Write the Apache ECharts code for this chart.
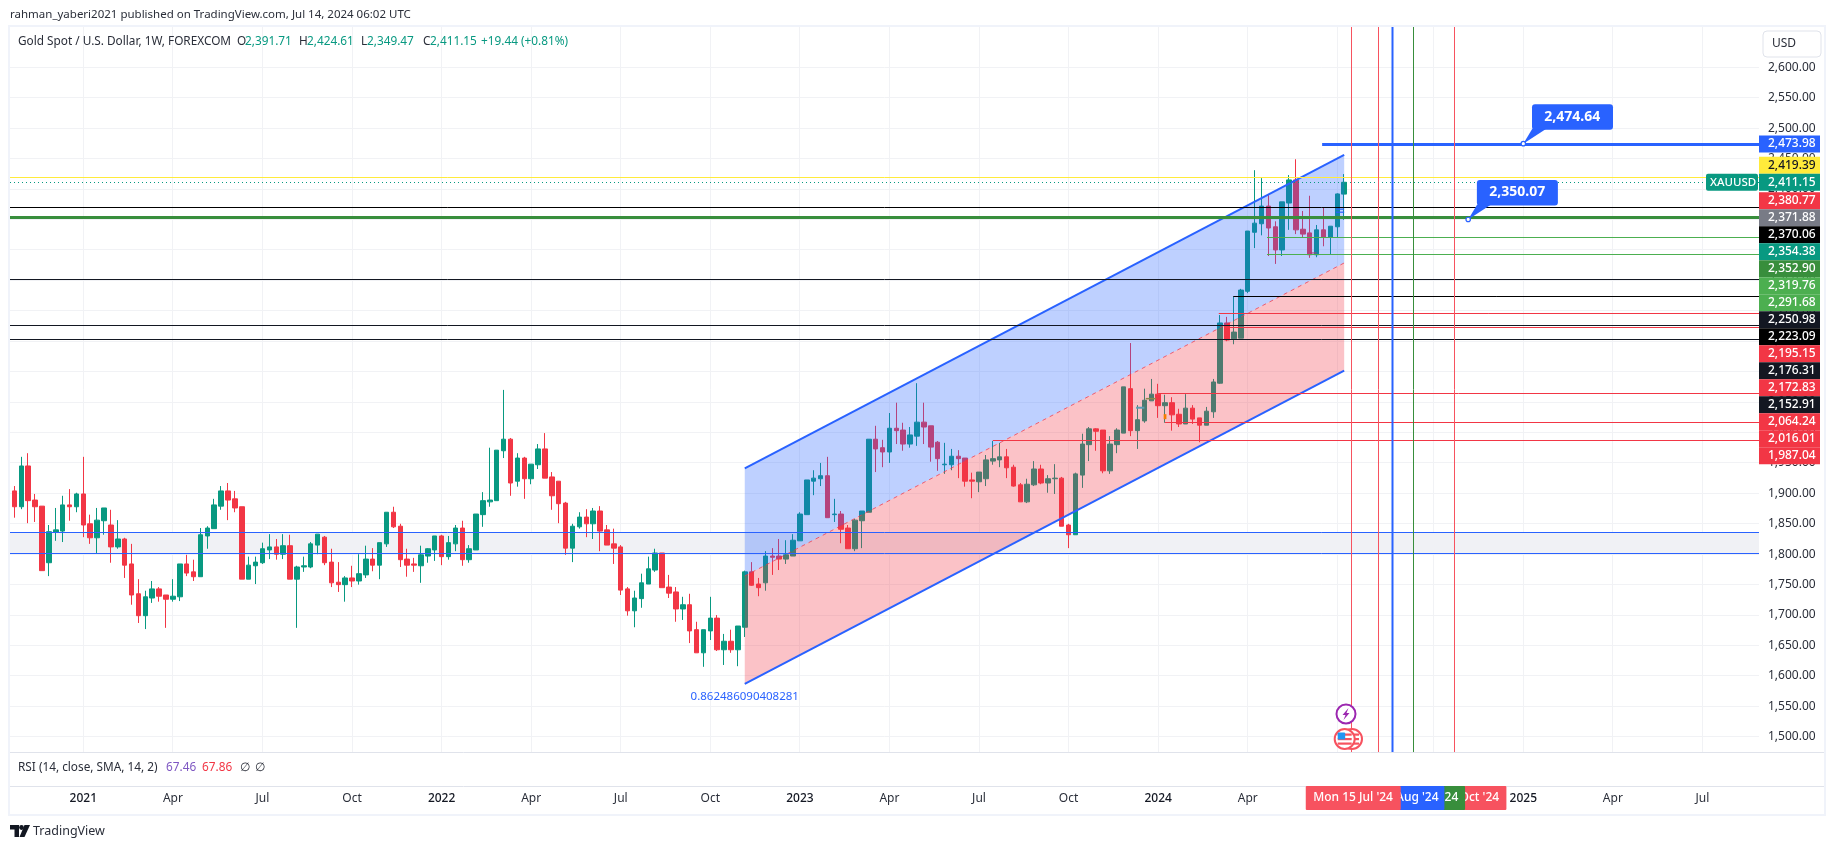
<!DOCTYPE html>
<html><head><meta charset="utf-8"><style>html,body{margin:0;padding:0;background:#fff}#c{width:1835px;height:849px}</style>
<script src="https://cdn.jsdelivr.net/npm/echarts@6/dist/echarts.min.js"></script></head>
<body><div id="c"></div><script>
// weekly bars from the week of 2020-10-26: [open, close, low, high]
const candles = [
[1904,1878,1860,1912],[1878,1945,1874,1960],[1945,1888,1851,1966],[1889,1878,1853,1899],[1879,1773,1773,1879],[1786,1837,1764,1848],[1836,1840,1822,1876],[1838,1881,1820,1896],[1881,1878,1855,1907],[1878,1899,1869,1901],
[1899,1848,1828,1960],[1850,1827,1817,1865],[1827,1856,1802,1876],[1855,1876,1832,1876],[1848,1812,1786,1873],[1812,1825,1809,1856],[1825,1782,1761,1827],[1784,1733,1717,1817],[1735,1699,1687,1759],[1699,1730,1677,1740],
[1728,1743,1720,1756],[1743,1731,1722,1746],[1733,1726,1679,1733],[1726,1731,1722,1759],[1730,1784,1723,1784],[1784,1769,1764,1799],[1771,1763,1756,1791],[1763,1832,1763,1843],[1830,1843,1809,1846],[1842,1881,1842,1891],
[1879,1904,1873,1912],[1904,1889,1856,1917],[1891,1876,1869,1904],[1878,1759,1759,1878],[1759,1782,1759,1796],[1781,1787,1751,1796],[1786,1809,1784,1819],[1807,1812,1792,1833],[1812,1800,1791,1825],[1800,1814,1792,1833],
[1814,1759,1759,1832],[1759,1779,1679,1781],[1779,1781,1771,1796],[1779,1817,1777,1820],[1815,1833,1800,1833],[1828,1786,1782,1830],[1787,1753,1746,1809],[1754,1750,1738,1787],[1750,1761,1722,1764],[1761,1756,1746,1781],
[1756,1768,1750,1800],[1766,1792,1761,1814],[1792,1782,1772,1810],[1782,1819,1759,1819],[1817,1869,1812,1869],[1869,1845,1843,1878],[1846,1791,1779,1850],[1792,1782,1763,1809],[1784,1782,1771,1794],[1781,1799,1753,1814],
[1797,1809,1786,1810],[1807,1830,1789,1830],[1830,1796,1782,1832],[1796,1819,1791,1830],[1817,1843,1805,1848],[1843,1791,1781,1855],[1791,1809,1786,1815],[1807,1866,1807,1866],[1865,1888,1845,1902],[1886,1889,1878,1975],
[1888,1971,1888,1971],[1970,1989,1958,2070],[1989,1917,1896,1991],[1920,1958,1911,1966],[1958,1924,1891,1960],[1924,1948,1915,1948],[1947,1973,1940,1981],[1973,1925,1925,1999],[1927,1896,1873,1935],[1920,1883,1851,1920],
[1884,1810,1799,1886],[1810,1846,1787,1850],[1845,1861,1842,1869],[1861,1850,1828,1874],[1850,1871,1825,1876],[1871,1838,1805,1879],[1840,1815,1815,1848],[1817,1810,1784,1842],[1812,1741,1733,1815],[1743,1707,1699,1746],
[1707,1728,1680,1740],[1727,1753,1712,1768],[1751,1776,1751,1796],[1774,1802,1771,1809],[1802,1745,1745,1802],[1746,1736,1728,1766],[1738,1710,1689,1746],[1710,1717,1692,1730],[1717,1674,1654,1735],[1676,1638,1638,1689],
[1638,1676,1615,1676],[1674,1695,1659,1730],[1695,1643,1641,1700],[1643,1657,1618,1669],[1657,1643,1638,1676],[1643,1682,1616,1682],[1680,1771,1664,1773],[1771,1749,1748,1787],[1751,1745,1731,1761],[1753,1797,1740,1805],
[1797,1795,1766,1810],[1797,1792,1774,1825],[1792,1799,1784,1823],[1797,1823,1797,1833],[1822,1866,1822,1869],[1865,1922,1865,1922],[1920,1925,1897,1938],[1924,1929,1912,1950],[1929,1860,1860,1960],[1865,1866,1853,1891],
[1866,1841,1818,1871],[1843,1809,1809,1848],[1809,1856,1805,1858],[1855,1871,1810,1871],[1869,1989,1869,1989],[1989,1973,1935,2011],[1975,1968,1943,1988],[1968,2007,1950,2032],[2007,2003,1981,2049],[2004,1981,1970,2016],
[1981,1996,1975,2009],[1994,2017,1978,2081],[2017,2009,1981,2049],[2011,1976,1952,2011],[1984,1957,1937,1986],[1947,1948,1932,1983],[1947,1961,1938,1973],[1961,1957,1925,1971],[1958,1920,1911,1958],[1922,1920,1892,1934],
[1919,1935,1902,1935],[1924,1955,1912,1963],[1953,1957,1947,1986],[1955,1960,1943,1983],[1960,1942,1925,1973],[1943,1912,1911,1947],[1914,1886,1886,1917],[1886,1915,1884,1924],[1914,1940,1912,1953],[1940,1917,1915,1947],
[1917,1924,1901,1930],[1924,1925,1899,1948],[1925,1846,1846,1927],[1848,1832,1810,1850],[1832,1932,1832,1934],[1930,1981,1909,1998],[1980,2006,1953,2009],[2006,2002,1970,2007],[2004,1937,1933,2004],[1937,1981,1932,1994],
[1980,2004,1966,2007],[1999,2075,1999,2075],[2072,2003,1994,2147],[2003,2021,1973,2045],[2019,2053,2016,2072],[2052,2063,2052,2088],[2063,2044,2024,2080],[2044,2049,2016,2062],[2049,2029,2003,2058],[2030,2014,2009,2039],
[2014,2040,2014,2063],[2040,2022,2014,2045],[2024,2012,1984,2024],[2012,2035,2012,2042],[2034,2083,2024,2088],[2081,2180,2080,2193],[2180,2152,2150,2190],[2154,2165,2145,2223],[2155,2234,2155,2236],[2232,2331,2229,2331],
[2329,2344,2303,2431],[2343,2372,2324,2418],[2372,2336,2290,2390],[2338,2300,2277,2347],[2300,2379,2290,2379],[2377,2415,2333,2423],[2415,2333,2326,2449],[2334,2326,2321,2364],[2328,2292,2287,2389],[2292,2333,2288,2341],
[2333,2321,2306,2369],[2321,2339,2293,2339],[2338,2392,2320,2393],[2391.71,2411.15,2349.47,2424.61]
];
const priceTicks = [1500,1550,1600,1650,1700,1750,1800,1850,1900,1950,2000,2050,2100,2150,2200,2250,2300,2350,2400,2450,2500,2550,2600];
const tickDates = ['2021-01-04','2021-04-05','2021-07-05','2021-10-04','2022-01-03','2022-04-04','2022-07-04','2022-10-03','2023-01-02','2023-04-03','2023-07-03','2023-10-02','2024-01-01','2024-04-01','2024-07-01','2024-10-07','2025-01-06','2025-04-07','2025-07-07'];
const tickLabels = ['2021','Apr','Jul','Oct','2022','Apr','Jul','Oct','2023','Apr','Jul','Oct','2024','Apr','Jul','Oct','2025','Apr','Jul'];
const barCount = 254;
const weeks = [];
for (let i = 0; i < barCount; i++) weeks.push(new Date(Date.UTC(2020, 9, 26 + i * 7)).toISOString().slice(0, 10));
const tickIndex = tickDates.map(d => weeks.indexOf(d));

// horizontal levels: value, first week index (null = chart edge)
const levelValues = [2473.98,2419.39,2411.15,2370.06,2352.90,2319.76,2291.68,2250.98,2223.09,2195.15,2176.31,2172.83,2152.91,2064.24,2016.01,1987.04,1836,1801.5];
const levelStarts = [189.8,null,null,null,null,181.8,181.8,null,176.9,174.8,null,175.7,null,166,167,142,null,null];
const levelColors = ['#2962FF','#FFEB3B','#089981','#000000','#388E3C','#4CAF50','#4CAF50','#131722','#000000','#F23645','#131722','#F23645','#131722','#F23645','#F23645','#F23645','#2962FF','#2962FF'];
const levelWidths = [3,1,1,1,3,1,1,1,1,1,1,1,1,1,1,1,1,1];
const zoneBand = [1801.5,1836];
// vertical date lines
const vlineWeeks = [194,198,200,203,209];
const vlineColors = ['#F7525F','#F7525F','#2962FF','#388E3C','#F7525F'];
const vlineWidths = [1,1,2,1,1];
// parallel channel: two week indices, upper / middle / lower values at each end
const channelWeeks = [106,193];
const channelUpper = [1941.2,2456];
const channelMiddle = [1764.2,2278.6];
const channelLower = [1586.8,2101.6];
// small drawing remnants: from week, to week, value
const remnantFrom = [166.8,162.8,164.2,191.8,191.8,188];
const remnantTo = [167.2,164,165.7,193,193,189];
const remnantValues = [2026,2040.7,2055.6,2367,2362,2295];
const remnantColors = ['#F57C00','#5B9DB5','#8B8B4E','#2962FF','#2962FF','#B03A7A'];
const remnantWidths = [5,2,1.5,1.2,1.2,1];
// callouts
const calloutWeeks = [219,211];
const calloutValues = [2474.64,2350.07];
const calloutTexts = ['2,474.64','2,350.07'];
// right-hand price tags, top to bottom
const tagValues = [2473.98,2419.39,2411.15,2380.77,2371.88,2370.06,2354.38,2352.90,2319.76,2291.68,2250.98,2223.09,2195.15,2176.31,2172.83,2152.91,2064.24,2016.01,1987.04];
const tagFills = ['#2962FF','#FFEB3B','#089981','#F23645','#787B86','#000000','#089981','#388E3C','#4CAF50','#4CAF50','#131722','#000000','#F23645','#131722','#F23645','#131722','#F23645','#F23645','#F23645'];
const pinnedTag = 2;
// date tags below the axis (bottom of the stack first)
const dateTagTexts = ["Mon 28 Oct '24","Mon 16 Sep '24","Mon 12 Aug '24","Mon 26 Aug '24","Mon 15 Jul '24"];
const dateTagWeeks = [209,203,198,200,194];
const dateTagFills = ['#F7525F','#388E3C','#F7525F','#2962FF','#F7525F'];

const FONT = '"Noto Sans", sans-serif';
const GRID = {left: 11, top: 27, width: 1750, height: 725};
const chart = echarts.init(document.getElementById('c'), null, {renderer: 'canvas'});
const one = [[0, 1500]];
const rows = n => Array.from({length: n}, () => [0, 1500]);
function xAt(api, p, i) {
  const f = Math.floor(i);
  return api.coord([f, 1500])[0] + (i - f) * p.coordSys.width / barCount;
}
const crisp = v => Math.floor(v) + 0.5;
const plotRight = p => p.coordSys.x + p.coordSys.width - 2;
const base = {type: 'custom', coordinateSystem: 'cartesian2d', silent: true, animation: false};

chart.setOption({
  animation: false,
  backgroundColor: '#ffffff',
  grid: GRID,
  xAxis: {
    type: 'category', data: weeks, boundaryGap: true,
    axisLine: {show: false}, axisTick: {show: false}, splitLine: {show: false},
    axisLabel: {
      margin: 41, interval: (i) => tickIndex.includes(i), hideOverlap: false,
      formatter: (v) => { const t = tickLabels[tickDates.indexOf(v)]; return /^\d/.test(t) ? '{y|' + t + '}' : '{m|' + t + '}'; },
      rich: {y: {fontFamily: FONT, fontSize: 12, fontWeight: 500, color: '#131722'}, m: {fontFamily: FONT, fontSize: 12, color: '#2A2E39'}}
    }
  },
  yAxis: {
    type: 'value', position: 'right', min: 1475, max: 2666.3, scale: true,
    axisLine: {show: false}, axisTick: {show: false}, splitLine: {show: false},
    axisLabel: {customValues: priceTicks, margin: 7, fontFamily: FONT, fontSize: 12, color: '#2A2E39', align: 'left',
      formatter: v => v.toLocaleString('en-US', {minimumFractionDigits: 2})}
  },
  series: [
    {...base, name: 'gridH', z: 1, data: rows(priceTicks.length), renderItem: (p, api) => {
      const y = crisp(api.coord([0, priceTicks[p.dataIndex]])[1]);
      return {type: 'line', shape: {x1: p.coordSys.x - 1, y1: y, x2: plotRight(p), y2: y}, style: {stroke: '#F1F2F5', lineWidth: 1}};
    }},
    {...base, name: 'gridV', z: 1, data: rows(tickIndex.length), renderItem: (p, api) => {
      const x = crisp(api.coord([tickIndex[p.dataIndex], 1500])[0]);
      return {type: 'line', shape: {x1: x, y1: p.coordSys.y, x2: x, y2: p.coordSys.y + p.coordSys.height}, style: {stroke: '#F1F2F5', lineWidth: 1}};
    }},
    {...base, name: 'zone', z: 1, data: one, renderItem: (p, api) => {
      const a = api.coord([0, zoneBand[1]])[1], b = api.coord([0, zoneBand[0]])[1];
      return {type: 'rect', shape: {x: p.coordSys.x - 1, y: a, width: plotRight(p) - p.coordSys.x + 1, height: b - a}, style: {fill: '#F0F1F5'}};
    }},
    {type: 'candlestick', name: 'XAUUSD', z: 2, barWidth: 5, data: candles, silent: true,
      itemStyle: {color: '#089981', color0: '#F23645', borderColor: '#089981', borderColor0: '#F23645', borderWidth: 1}},
    {...base, name: 'channel', z: 3, data: one, renderItem: (p, api) => {
      const pt = (k, s) => api.coord([channelWeeks[k], s[k]]);
      return {type: 'group', children: [
        {type: 'polygon', shape: {points: [pt(0, channelUpper), pt(1, channelUpper), pt(1, channelMiddle), pt(0, channelMiddle)]}, style: {fill: 'rgba(41,98,255,0.3)'}},
        {type: 'polygon', shape: {points: [pt(0, channelMiddle), pt(1, channelMiddle), pt(1, channelLower), pt(0, channelLower)]}, style: {fill: 'rgba(242,54,69,0.3)'}},
        {type: 'line', shape: {x1: pt(0, channelUpper)[0], y1: pt(0, channelUpper)[1], x2: pt(1, channelUpper)[0], y2: pt(1, channelUpper)[1]}, style: {stroke: '#2962FF', lineWidth: 2}},
        {type: 'line', shape: {x1: pt(0, channelLower)[0], y1: pt(0, channelLower)[1], x2: pt(1, channelLower)[0], y2: pt(1, channelLower)[1]}, style: {stroke: '#2962FF', lineWidth: 2}},
        {type: 'line', shape: {x1: pt(0, channelMiddle)[0], y1: pt(0, channelMiddle)[1], x2: pt(1, channelMiddle)[0], y2: pt(1, channelMiddle)[1]}, style: {stroke: 'rgba(242,54,69,0.75)', lineWidth: 1, lineDash: [4, 4]}},
        {type: 'text', style: {text: '0.862486090408281', x: pt(0, channelLower)[0], y: pt(0, channelLower)[1] + 13, fill: '#2962FF', font: '11.5px ' + FONT, align: 'center', verticalAlign: 'middle'}}
      ]};
    }},
    {...base, name: 'remnants', z: 3, data: rows(remnantValues.length), renderItem: (p, api) => {
      const i = p.dataIndex, y = api.coord([0, remnantValues[i]])[1];
      return {type: 'line', shape: {x1: xAt(api, p, remnantFrom[i]), y1: y, x2: xAt(api, p, remnantTo[i]), y2: y}, style: {stroke: remnantColors[i], lineWidth: remnantWidths[i]}};
    }},
    {...base, name: 'levels', z: 4, data: rows(levelValues.length), renderItem: (p, api) => {
      const i = p.dataIndex, y = crisp(api.coord([0, levelValues[i]])[1]);
      const x1 = levelStarts[i] == null ? p.coordSys.x - 1 : xAt(api, p, levelStarts[i]);
      return {type: 'line', shape: {x1, y1: y, x2: plotRight(p), y2: y},
        style: {stroke: levelColors[i], lineWidth: levelWidths[i], lineDash: levelValues[i] === 2411.15 ? [1, 3] : null}};
    }},
    {...base, name: 'vlines', z: 4, data: rows(vlineWeeks.length), renderItem: (p, api) => {
      const i = p.dataIndex, x = crisp(api.coord([vlineWeeks[i], 1500])[0]);
      return {type: 'line', shape: {x1: x, y1: p.coordSys.y, x2: x, y2: p.coordSys.y + p.coordSys.height}, style: {stroke: vlineColors[i], lineWidth: vlineWidths[i]}};
    }},
    {...base, name: 'callouts', z: 5, data: rows(calloutValues.length), renderItem: (p, api) => {
      const i = p.dataIndex, c = api.coord([calloutWeeks[i], calloutValues[i]]), x = c[0], y = c[1];
      return {type: 'group', children: [
        {type: 'polygon', shape: {points: [[x, y], [x + 9, y - 15], [x + 23, y - 15]]}, style: {fill: '#2962FF'}},
        {type: 'rect', shape: {x: x + 8.7, y: y - 39.5, width: 81, height: 25.5, r: 3}, style: {fill: '#2962FF'}},
        {type: 'text', style: {text: calloutTexts[i], x: x + 49, y: y - 27, fill: '#fff', font: 'bold 14px ' + FONT, align: 'center', verticalAlign: 'middle'}},
        {type: 'circle', shape: {cx: x, cy: y, r: 2.2}, style: {fill: '#fff', stroke: '#2962FF', lineWidth: 1.2}}
      ]};
    }}
  ]
});

// ---- page furniture: frame, captions, tags ----
const g = [];
let Z = 10;
const rect = (x, y, w, h, fill, r, extra) => g.push({type: 'rect', z: Z++, silent: true, shape: {x, y, width: w, height: h, r: r || 0}, style: Object.assign({fill}, extra || {})});
const text = (t, x, y, fill, size, opt) => g.push({type: 'text', z: Z++, silent: true, style: Object.assign({text: t, x, y, fill, font: (opt && opt.weight ? opt.weight + ' ' : '') + (size || 12) + 'px ' + FONT, align: (opt && opt.align) || 'left', verticalAlign: 'middle'})});

rect(1759, 27, 3, 725, '#ffffff');
rect(9, 26, 1816, 789, 'none', 0, {stroke: '#F0F3FA', lineWidth: 2});
g.push({type: 'line', z: Z++, silent: true, shape: {x1: 10, y1: 752.5, x2: 1824, y2: 752.5}, style: {stroke: '#E0E3EB', lineWidth: 1}});
g.push({type: 'line', z: Z++, silent: true, shape: {x1: 10, y1: 786.5, x2: 1824, y2: 786.5}, style: {stroke: '#E0E3EB', lineWidth: 1}});

text('rahman_yaberi2021 published on TradingView.com, Jul 14, 2024 06:02 UTC', 10, 15, '#2A2E39', 11.5);
text('Gold Spot / U.S. Dollar, 1W, FOREXCOM', 18, 42, '#2A2E39', 11.8);
const ohlcHead = [['O',237,'2,391.71',245],['H',299,'2,424.61',307],['L',361,'2,349.47',367],['C',423,'2,411.15',430]];
ohlcHead.forEach(r => { text(r[0], r[1], 42, '#2A2E39', 11.8); text(r[2], r[3], 42, '#089981', 11.8); });
text('+19.44 (+0.81%)', 481, 42, '#089981', 11.8);
text('RSI (14, close, SMA, 14, 2)', 18, 768, '#2A2E39', 11.8);
text('67.46', 166, 768, '#7E57C2', 11.8);
text('67.86', 202, 768, '#F23645', 11.8);
text('∅', 240, 768, '#2A2E39', 11.8);
text('∅', 255, 768, '#2A2E39', 11.8);

rect(1763, 31, 58, 26, '#ffffff', 4, {stroke: '#E0E3EB', lineWidth: 1});
text('USD', 1772, 44, '#2A2E39', 12);

// TradingView mark
g.push({type: 'polygon', z: Z++, silent: true, shape: {points: [[10,825],[19,825],[19,837],[14.5,837],[14.5,829.5],[10,829.5]]}, style: {fill: '#131722'}});
g.push({type: 'polygon', z: Z++, silent: true, shape: {points: [[24.5,825],[30,825],[24.5,837],[19.5,837]]}, style: {fill: '#131722'}});
g.push({type: 'circle', z: Z++, silent: true, shape: {cx: 21.5, cy: 827.5, r: 2.4}, style: {fill: '#131722'}});
text('TradingView', 33, 831, '#2A2E39', 12.5);

// price tags: positions come from the y scale, then spread so they never overlap
const STEP = 17;
const ys = tagValues.map(v => chart.convertToPixel({yAxisIndex: 0}, v));
for (let i = pinnedTag - 1; i >= 0; i--) ys[i] = Math.min(ys[i], ys[i + 1] - STEP);
for (let i = pinnedTag + 1; i < ys.length; i++) ys[i] = Math.max(ys[i], ys[i - 1] + STEP);
tagValues.forEach((v, i) => {
  rect(1759, ys[i] - 8.5, 61, 17, tagFills[i]);
  text(v.toLocaleString('en-US', {minimumFractionDigits: 2}), 1768, ys[i], tagFills[i] === '#FFEB3B' ? '#131722' : '#ffffff', 12, {weight: 500});
});
rect(1706, ys[pinnedTag] - 8.5, 52, 17, '#089981', 2);
text('XAUUSD', 1710, ys[pinnedTag], '#ffffff', 11.5, {weight: 500});

// date tags
dateTagTexts.forEach((t, i) => {
  const cx = chart.convertToPixel({xAxisIndex: 0}, dateTagWeeks[i]);
  const top = i === dateTagTexts.length - 1;
  rect(top ? cx - 45.3 : cx - 51, 786, top ? 95 : 103, 24, dateTagFills[i], 1);
  text(t, cx + 2, 798, '#ffffff', 12, {align: 'center', weight: 500});
});

// event icons
g.push({type: 'circle', z: Z++, silent: true, shape: {cx: 1346, cy: 714, r: 9.5}, style: {fill: '#fff', stroke: '#9C27B0', lineWidth: 2}});
g.push({type: 'polygon', z: Z++, silent: true, shape: {points: [[1348.5, 708], [1342.5, 715], [1345.5, 715], [1343.5, 720], [1349.5, 713], [1346.5, 713]]}, style: {fill: '#9C27B0'}});
[1352, 1344.7].forEach(cx => {
  g.push({type: 'circle', z: Z++, silent: true, shape: {cx, cy: 739, r: 10}, style: {fill: '#fff', stroke: '#F7525F', lineWidth: 2}});
  [734.5, 739, 743.5].forEach(y => rect(cx - 7, y - 1, 14, 2.2, '#F7525F'));
  rect(cx - 7, 732.5, 7.5, 7, '#2196F3', 1);
});

chart.setOption({graphic: {elements: g}});
</script></body></html>
